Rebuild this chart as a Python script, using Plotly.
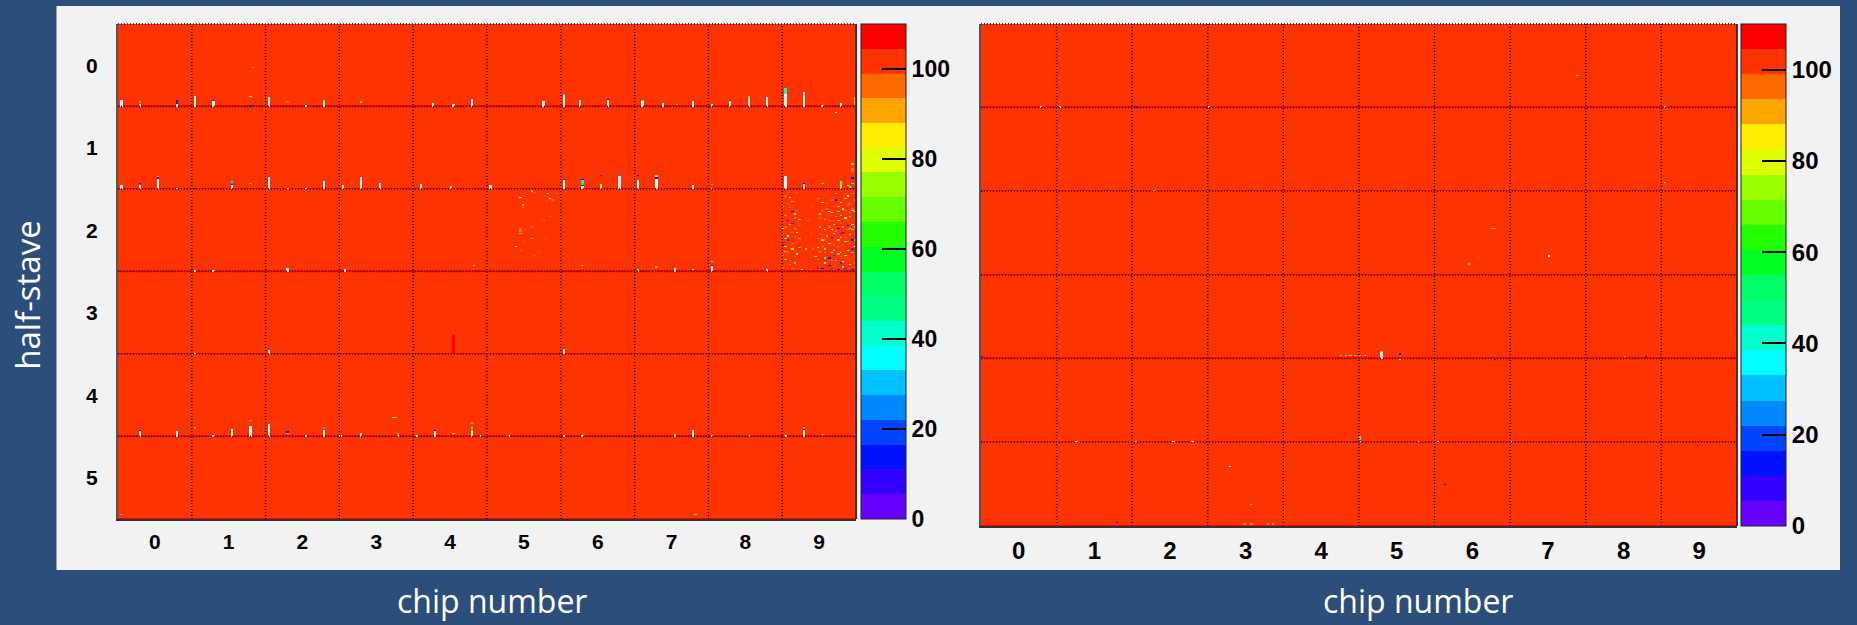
import numpy as np
import plotly.graph_objects as go

W, H = 1857, 625

# ---------------------------------------------------------------- layout of the detector
CHIP_LABELS = [str(i) for i in range(10)]
HALF_STAVE_LABELS = [str(i) for i in range(6)]
N_CHIPS, N_HALF_STAVES = 10, 6
COLS_PER_CHIP, ROWS_PER_HALF_STAVE = 32, 64

# ---------------------------------------------------------------- colour levels (20 contours, 0..110)
Z_MIN, Z_MAX = 0, 110
PALETTE = [  # lowest level first
    "#6600ff", "#3300ff", "#0011ff", "#0044ff", "#0088ff", "#00c0ff", "#00ffff",
    "#00ffcc", "#00ff80", "#00ff66", "#00ff22", "#22ff00", "#66ff00", "#99ff00",
    "#ddff00", "#ffee00", "#ffa500", "#ff6a00", "#ff3300", "#ff0000",
]
COLORBAR_TICKS = [0, 20, 40, 60, 80, 100]

# ---------------------------------------------------------------- run A (left map)
NOMINAL_A = 100
EDGE_ROW_A = 106          # last pixel row of each half-stave
# dead pixels: (column, first row, number of rows)
DEAD_A = [
    (1, 59, 5), (9, 62, 2), (25, 62, 2), (33, 56, 8), (41, 60, 3), (65, 57, 7), (81, 63, 1),
    (89, 60, 4), (136, 61, 3), (145, 62, 2), (153, 58, 6), (184, 60, 4), (193, 55, 9),
    (200, 59, 5), (212, 59, 5), (227, 60, 4), (236, 61, 3), (249, 60, 4), (257, 62, 2),
    (265, 60, 4), (273, 58, 6), (281, 57, 7), (289, 54, 10), (297, 53, 11), (305, 63, 1),
    (313, 61, 3), (311, 68, 1),
    (1, 125, 3), (9, 125, 3), (17, 120, 8), (25, 127, 1), (49, 125, 3), (65, 119, 9),
    (73, 127, 1), (81, 127, 1), (89, 122, 6), (97, 125, 3), (105, 119, 9), (113, 123, 5),
    (131, 124, 4), (144, 126, 2), (161, 125, 3), (193, 121, 7), (201, 126, 2), (209, 126, 2),
    (217, 118, 10), (225, 121, 7), (233, 120, 8), (249, 125, 3), (257, 127, 1), (289, 118, 10),
    (297, 124, 4),
    (257, 188, 4), (281, 190, 2), (241, 189, 3), (73, 189, 3), (98, 190, 2), (33, 191, 1),
    (41, 191, 1),
    (33, 255, 1), (65, 253, 3), (193, 252, 4),
    (9, 316, 4), (25, 316, 4), (41, 319, 1), (49, 314, 6), (57, 312, 8), (65, 310, 10),
    (81, 319, 1), (89, 315, 5), (96, 319, 1), (105, 317, 3), (121, 319, 1), (129, 319, 1),
    (137, 316, 4), (153, 315, 5), (157, 319, 1), (169, 319, 1), (193, 319, 1), (201, 319, 1),
    (249, 315, 5), (257, 319, 1), (289, 319, 1), (297, 315, 5),
]
# vertical runs of one reading: (column, first row, number of rows, value)
RUNS_A = [
    (25, 59, 2, 8), (289, 50, 4, 42), (319, 57, 3, 90), (319, 60, 3, 70),
    (313, 122, 3, 70), (313, 125, 3, 85), (318, 112, 3, 96), (201, 121, 2, 42),
    (201, 123, 2, 65), (209, 124, 2, 80), (174, 158, 3, 96), (145, 241, 14, 107),
    (241, 318, 2, 85),
]
# single pixel readings: (column, row, value)
HITS_A = [
    (9, 60, 90), (25, 61, 15), (41, 59, 18), (41, 63, 80), (57, 56, 85), (57, 63, 15),
    (58, 33, 90), (73, 60, 96), (89, 59, 70), (105, 60, 68), (193, 54, 42), (212, 58, 8),
    (227, 59, 65), (242, 62, 70), (265, 59, 18), (273, 56, 68), (273, 57, 85),
    (9, 123, 8), (17, 118, 90), (17, 119, 15), (33, 127, 15), (49, 122, 65), (49, 123, 25),
    (49, 124, 8), (57, 123, 88), (101, 121, 96), (101, 123, 96), (193, 114, 25),
    (193, 120, 20), (201, 120, 8), (201, 125, 15), (209, 117, 20), (217, 117, 25),
    (225, 117, 8), (233, 117, 68), (233, 118, 85), (233, 119, 8), (257, 124, 90),
    (297, 123, 8), (305, 123, 65), (318, 108, 68), (318, 119, 15), (318, 123, 68),
    (316, 125, 80), (317, 126, 70),
    # half-stave 2, chip 5
    (174, 134, 78), (177, 132, 96), (179, 129, 90), (180, 130, 96), (186, 131, 68),
    (187, 135, 85), (188, 136, 96), (190, 131, 96), (185, 137, 96), (175, 140, 90),
    (175, 142, 90), (184, 152, 96), (187, 149, 96), (179, 157, 96), (176, 159, 96),
    (174, 162, 68), (185, 166, 96), (179, 166, 90), (176, 168, 96), (172, 172, 78),
    (174, 175, 96), (182, 176, 96), (180, 179, 96), (201, 187, 90),
    # half-stave 2, chip 9
    (290, 130, 96), (294, 130, 96), (291, 134, 85), (290, 139, 96), (291, 142, 96),
    (292, 145, 8), (293, 147, 68), (293, 150, 96), (290, 152, 8), (292, 154, 18),
    (289, 157, 96), (288, 158, 85), (291, 159, 96), (294, 161, 85), (295, 156, 96),
    (293, 165, 96), (290, 167, 18), (294, 169, 96), (288, 171, 18), (289, 172, 85),
    (292, 174, 68), (290, 177, 96), (293, 180, 96), (289, 182, 68), (291, 183, 96),
    (288, 179, 96), (300, 141, 96), (299, 152, 96), (300, 162, 96), (298, 174, 68),
    (301, 174, 96), (303, 173, 85), (305, 172, 96), (302, 180, 85), (306, 177, 96),
    (304, 162, 96), (306, 159, 85), (306, 167, 96), (304, 150, 96), (305, 144, 96),
    (307, 139, 96), (309, 136, 96), (309, 146, 85), (308, 152, 96), (309, 159, 85),
    (309, 165, 18), (310, 171, 96), (309, 177, 85), (308, 181, 8), (310, 134, 96),
    (311, 136, 8), (312, 141, 85), (313, 148, 68), (313, 154, 96), (312, 158, 8),
    (313, 162, 18), (312, 167, 85), (312, 172, 96), (313, 177, 68), (313, 185, 18),
    (315, 131, 96), (315, 135, 68), (316, 140, 96), (317, 146, 96), (315, 150, 85),
    (316, 156, 8), (316, 159, 96), (317, 163, 68), (316, 168, 96), (318, 174, 18),
    (315, 179, 85), (317, 183, 96), (319, 136, 96), (318, 144, 85), (319, 152, 96),
    (319, 162, 96), (318, 167, 8), (319, 180, 96), (311, 183, 68), (308, 187, 8),
    (305, 189, 8), (309, 189, 18), (312, 190, 8), (315, 189, 18), (318, 190, 8),
    (292, 189, 96), (296, 190, 85), (300, 190, 96), (303, 189, 18), (314, 143, 85),
    (317, 149, 68), (310, 152, 96), (310, 162, 85), (314, 171, 96), (316, 175, 85),
    (313, 180, 96), (319, 172, 85), (308, 157, 96), (306, 174, 68), (310, 141, 96),
    (318, 143, 96), (315, 165, 96), (318, 159, 68),
    (289, 133, 96), (292, 137, 90), (288, 141, 85), (294, 144, 96), (289, 148, 90),
    (295, 151, 85), (291, 155, 68), (288, 162, 96), (293, 158, 90), (290, 164, 85),
    (295, 166, 90), (292, 170, 96), (289, 176, 90), (294, 178, 85), (291, 186, 90),
    (288, 188, 96), (293, 185, 68), (295, 173, 90), (289, 166, 42), (292, 161, 96),
    (303, 135, 90), (305, 138, 85), (307, 143, 96), (304, 147, 68), (306, 151, 90),
    (308, 145, 85), (311, 149, 90), (310, 155, 68), (312, 152, 85), (314, 157, 90),
    (316, 152, 96), (318, 155, 85), (317, 158, 42), (319, 157, 90), (311, 160, 96),
    (313, 165, 90), (315, 168, 85), (317, 170, 96), (319, 167, 68), (318, 177, 90),
    (316, 181, 96), (314, 184, 85), (312, 178, 90), (310, 175, 68), (308, 170, 85),
    (307, 164, 90), (305, 167, 85), (304, 176, 90), (303, 182, 96), (306, 185, 85),
    (309, 183, 90), (311, 187, 96), (314, 188, 68), (317, 186, 85), (319, 185, 96),
    (319, 145, 85), (317, 139, 90), (315, 144, 96), (313, 138, 85), (311, 131, 90),
    (316, 133, 85), (318, 131, 96), (312, 145, 42), (310, 179, 18), (314, 161, 8),
    (306, 181, 42), (304, 157, 90), (303, 166, 96),
    (257, 184, 68), (257, 187, 8), (225, 190, 42), (225, 191, 68), (233, 188, 90),
    (249, 190, 85), (154, 187, 68),
    (128, 248, 12),
    (9, 315, 8), (33, 313, 90), (57, 307, 90), (73, 316, 15), (73, 317, 90), (89, 313, 96),
    (89, 314, 25), (113, 319, 18), (119, 305, 75), (120, 305, 75), (121, 317, 90),
    (137, 315, 8), (145, 317, 85), (153, 309, 90), (153, 313, 68), (273, 319, 68),
    (297, 313, 90), (297, 314, 8), (305, 318, 90), (319, 318, 90),
    (1, 380, 90), (250, 380, 68),
]

# ---------------------------------------------------------------- run B (right map)
NOMINAL_B = 100
EDGE_ROW_B = 106
DEAD_B = [
    (25, 63, 1), (33, 63, 1), (96, 63, 1), (240, 177, 1), (193, 319, 1), (224, 319, 1),
    (40, 319, 1), (81, 319, 1), (89, 319, 1), (160, 319, 1), (105, 338, 1), (169, 251, 5),
]
RUNS_B = [
    (216, 156, 1, 90), (217, 156, 1, 90), (160, 316, 2, 42),
]
HITS_B = [
    (65, 63, 8), (73, 127, 90), (252, 39, 68), (289, 63, 78), (289, 121, 75),
    (210, 178, 96), (206, 183, 90), (177, 252, 8), (177, 256, 85), (217, 256, 15),
    (272, 254, 90), (281, 254, 15), (185, 319, 90), (303, 322, 107), (196, 352, 8),
    (65, 319, 68), (160, 315, 90), (160, 318, 20), (114, 367, 90), (57, 381, 8),
    (111, 382, 90), (114, 382, 90), (121, 382, 90), (123, 382, 90),
    (152, 253, 70), (154, 253, 70), (156, 253, 70), (158, 253, 90), (160, 253, 90),
    (162, 253, 90), (169, 250, 90), (121, 192, 12), (0, 254, 8),
]

# ---------------------------------------------------------------- panel geometry (pixels)
PANELS = [
    dict(x0=119, x1=864, y0=24, y1=519, cb_x=869, tick_size=21, cb_size=23,
         xtick_pad=3, title_x=497),
    dict(x0=990, x1=1753, y0=24, y1=526, cb_x=1757, tick_size=24, cb_size=24,
         xtick_pad=2, title_x=1431),
]


def build_map(nominal, edge_row, dead, runs, hits):
    n_rows = N_HALF_STAVES * ROWS_PER_HALF_STAVE
    n_cols = N_CHIPS * COLS_PER_CHIP
    z = np.full((n_rows, n_cols), float(nominal))
    z[ROWS_PER_HALF_STAVE - 1::ROWS_PER_HALF_STAVE, :] = edge_row
    for col, row, n, val in runs:
        z[row:row + n, col] = val
    for col, row, val in hits:
        z[row, col] = val
    for col, row, n in dead:
        z[row:row + n, col] = np.nan
    return z


def stepped_scale(colors):
    n = len(colors)
    scale = []
    for i, c in enumerate(colors):
        scale.append([i / n, c])
        scale.append([(i + 1) / n, c])
    return scale


# bin centres in axis units (chip / half-stave)
x_centres = (np.arange(N_CHIPS * COLS_PER_CHIP) + 0.5) / COLS_PER_CHIP - 0.5
y_centres = (np.arange(N_HALF_STAVES * ROWS_PER_HALF_STAVE) + 0.5) / ROWS_PER_HALF_STAVE - 0.5

maps = [
    build_map(NOMINAL_A, EDGE_ROW_A, DEAD_A, RUNS_A, HITS_A),
    build_map(NOMINAL_B, EDGE_ROW_B, DEAD_B, RUNS_B, HITS_B),
]

TICK_FONT = "Liberation Sans, Arial, sans-serif"
TITLE_FONT = "Open Sans, Noto Sans, sans-serif"
BG_BLUE = "#2c4e7b"
PANEL_GREY = "#f2f2f2"

fig = go.Figure()
shapes = []
annotations = []

# light panel behind both maps
shapes.append(dict(type="rect", xref="paper", yref="paper", x0=57 / W, x1=1.0,
                   y0=1 - 570 / H, y1=1 - 6 / H, fillcolor=PANEL_GREY, line_width=0,
                   layer="below"))

for i, (p, z) in enumerate(zip(PANELS, maps)):
    sfx = "" if i == 0 else str(i + 1)
    xa, ya = "x" + sfx, "y" + sfx
    fig.add_trace(go.Heatmap(
        z=z, x=x_centres, y=y_centres, xaxis=xa, yaxis=ya,
        colorscale=stepped_scale(PALETTE), zmin=Z_MIN, zmax=Z_MAX,
        hoverongaps=False,
        colorbar=dict(
            x=p["cb_x"] / W, xanchor="left", xpad=0,
            y=1 - p["y0"] / H, yanchor="top", ypad=0,
            len=p["y1"] - p["y0"], lenmode="pixels",
            thickness=45, thicknessmode="pixels",
            outlinewidth=1, outlinecolor="#222222",
            tickmode="array", tickvals=COLORBAR_TICKS,
            ticks="inside", ticklen=24, tickwidth=2, tickcolor="black",
            tickfont=dict(family=TICK_FONT, size=p["cb_size"], color="black", weight="bold"),
        ),
    ))

    fig.update_layout({
        "xaxis" + sfx: dict(
            domain=[p["x0"] / W, p["x1"] / W], range=[-0.5, N_CHIPS - 0.5],
            anchor=ya, tickmode="array", tickvals=list(range(N_CHIPS)), ticktext=CHIP_LABELS,
            ticks="outside", ticklen=p["xtick_pad"], tickcolor="rgba(0,0,0,0)",
            showgrid=False, zeroline=False, showline=True, linecolor="#333333", linewidth=2,
            layer="above traces",
            tickfont=dict(family=TICK_FONT, size=p["tick_size"], color="black", weight="bold"),
        ),
        "yaxis" + sfx: dict(
            domain=[1 - p["y1"] / H, 1 - p["y0"] / H], range=[N_HALF_STAVES - 0.5, -0.5],
            anchor=xa, tickmode="array", tickvals=list(range(N_HALF_STAVES)),
            ticktext=HALF_STAVE_LABELS if i == 0 else [""] * N_HALF_STAVES,
            ticks="outside", ticklen=14, tickcolor="rgba(0,0,0,0)",
            showgrid=False, zeroline=False, showline=True, linecolor="#555555", linewidth=2,
            layer="above traces",
            tickfont=dict(family=TICK_FONT, size=p["tick_size"], color="black", weight="bold"),
        ),
    })

    dot = dict(color="black", width=1.3, dash="1px,2px")
    # dotted chip and half-stave boundaries
    for b in range(N_CHIPS - 1):
        shapes.append(dict(type="line", xref=xa, yref=ya + " domain", x0=b + 0.5, x1=b + 0.5,
                           y0=0, y1=1, line=dot, layer="above"))
    for b in range(N_HALF_STAVES - 1):
        shapes.append(dict(type="line", xref=xa + " domain", yref=ya, x0=0, x1=1,
                           y0=b + 0.5, y1=b + 0.5, line=dot, layer="above"))
    # frame: dotted top edge, solid right edge
    shapes.append(dict(type="line", xref=xa + " domain", yref=ya + " domain", x0=0, x1=1,
                       y0=1, y1=1, line=dot, layer="above"))
    shapes.append(dict(type="line", xref=xa + " domain", yref=ya + " domain", x0=1, x1=1,
                       y0=0, y1=1, line=dict(color="#333333", width=2), layer="above"))

    annotations.append(dict(text="chip number", xref="paper", yref="paper",
                            x=p["title_x"] / W, y=1 - 600 / H, xanchor="center",
                            yanchor="middle", showarrow=False,
                            font=dict(family=TITLE_FONT, size=32, color="white")))

annotations.append(dict(text="half-stave", xref="paper", yref="paper", x=27 / W,
                        y=1 - 295 / H, xanchor="center", yanchor="middle", textangle=-90,
                        showarrow=False, font=dict(family=TITLE_FONT, size=33, color="white")))

fig.update_layout(
    width=W, height=H, autosize=False,
    margin=dict(l=0, r=0, t=0, b=0),
    paper_bgcolor=BG_BLUE, plot_bgcolor="white",
    showlegend=False, shapes=shapes, annotations=annotations,
)

fig.write_html("out.html")
